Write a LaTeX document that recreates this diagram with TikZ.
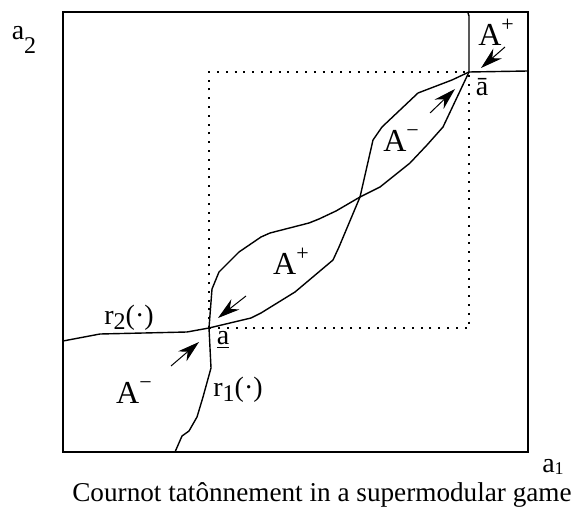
\documentclass[tikz,border=0pt]{standalone}
\usepackage{fontspec}
\setmainfont{Liberation Serif}
\usetikzlibrary{arrows.meta}
\newcommand{\lowsub}[2]{\raisebox{#1}{\fontsize{12}{14}\selectfont #2}}
\newcommand{\hisup}[1]{\raisebox{7pt}{\fontsize{11}{13}\selectfont #1}}

\begin{document}
\begin{tikzpicture}[x=0.5pt,y=-0.5pt]

		\tikzset{line/.style={draw,line width=0.7pt,line join=round}}
		\tikzset{frame/.style={draw,line width=1pt}}
		\tikzset{dots/.style={draw,line width=1pt,dash pattern=on 1pt off 3.4pt}}
		\tikzset{push/.style={draw,line width=0.5pt,-{Stealth[length=11pt,width=6.5pt]}}}
		\tikzset{lbl/.style={inner sep=0pt,font=\fontsize{14}{16}\selectfont}}
		\tikzset{region/.style={inner sep=0pt,font=\fontsize{16}{18}\selectfont}}

		\useasboundingbox (0,0) rectangle (571,507);

		% equilibria
		\coordinate (alow) at (209,328);
		\coordinate (amid) at (360,197);
		\coordinate (ahigh) at (469,72);

		\path[frame] (63,12) rectangle (528,452);
		\path[dots] (alow) rectangle (ahigh);

		% r_1 and r_2
		\path[line] (175,452) -- (182,436) -- (189,431) -- (197,417) -- (203,397) -- (211,368) -- (alow)
			-- (212,289) -- (219,272) -- (239,252) -- (261,237) -- (270,233) -- (309,223) -- (319,219) -- (336,211) -- (amid)
			-- (380,187) -- (410,163) -- (427,145) -- (443,127) -- (ahigh) -- (469,16) -- (468,13);
		\path[line] (63,341) -- (100,334) -- (187,332) -- (alow)
			-- (251,318) -- (261,313) -- (295,292) -- (333,260) -- (339,247) -- (amid)
			-- (373,140) -- (382,127) -- (418,93) -- (452,80) -- (ahigh) -- (528,71);

		\coordinate (t1) at (246,296);
		\coordinate (h1) at (218,318);
		\coordinate (t2) at (171,366);
		\coordinate (h2) at (199,342);
		\coordinate (t3) at (430,113);
		\coordinate (h3) at (455,89);
		\coordinate (t4) at (505,47);
		\coordinate (h4) at (481,68);

		\path[push] (t1) -- (h1);
		\path[push] (t2) -- (h2);
		\path[push] (t3) -- (h3);
		\path[push] (t4) -- (h4);

		\node[region] (Aup) at (496,32) {A\hisup{+}};
		\node[region] (Bup) at (401,141) {A\hisup{−}};
		\node[region] (Alens) at (291,261) {A\hisup{+}};
		\node[region] (Blow) at (134,393) {A\hisup{−}};

		\node[lbl] (r2) at (129,318) {r\lowsub{-2.5pt}{2}(·)};
		\node[lbl] (r1) at (238,390) {r\lowsub{-2.5pt}{1}(·)};
		\node[lbl] (alab) at (223,340) {\underline{a}};
		\node[lbl] (blab) at (482,87) {\=a};

		\node[lbl] (a2) at (24,40) {a\lowsub{-7pt}{2}};
		\node[lbl] (a1) at (553,467) {a\raisebox{-1pt}{\fontsize{9}{11}\selectfont 1}};
		\node[inner sep=0pt,font=\fontsize{13.6}{15}\selectfont] (title) at (322,495) {Cournot tatônnement in a supermodular game};

	\end{tikzpicture}
\end{document}
